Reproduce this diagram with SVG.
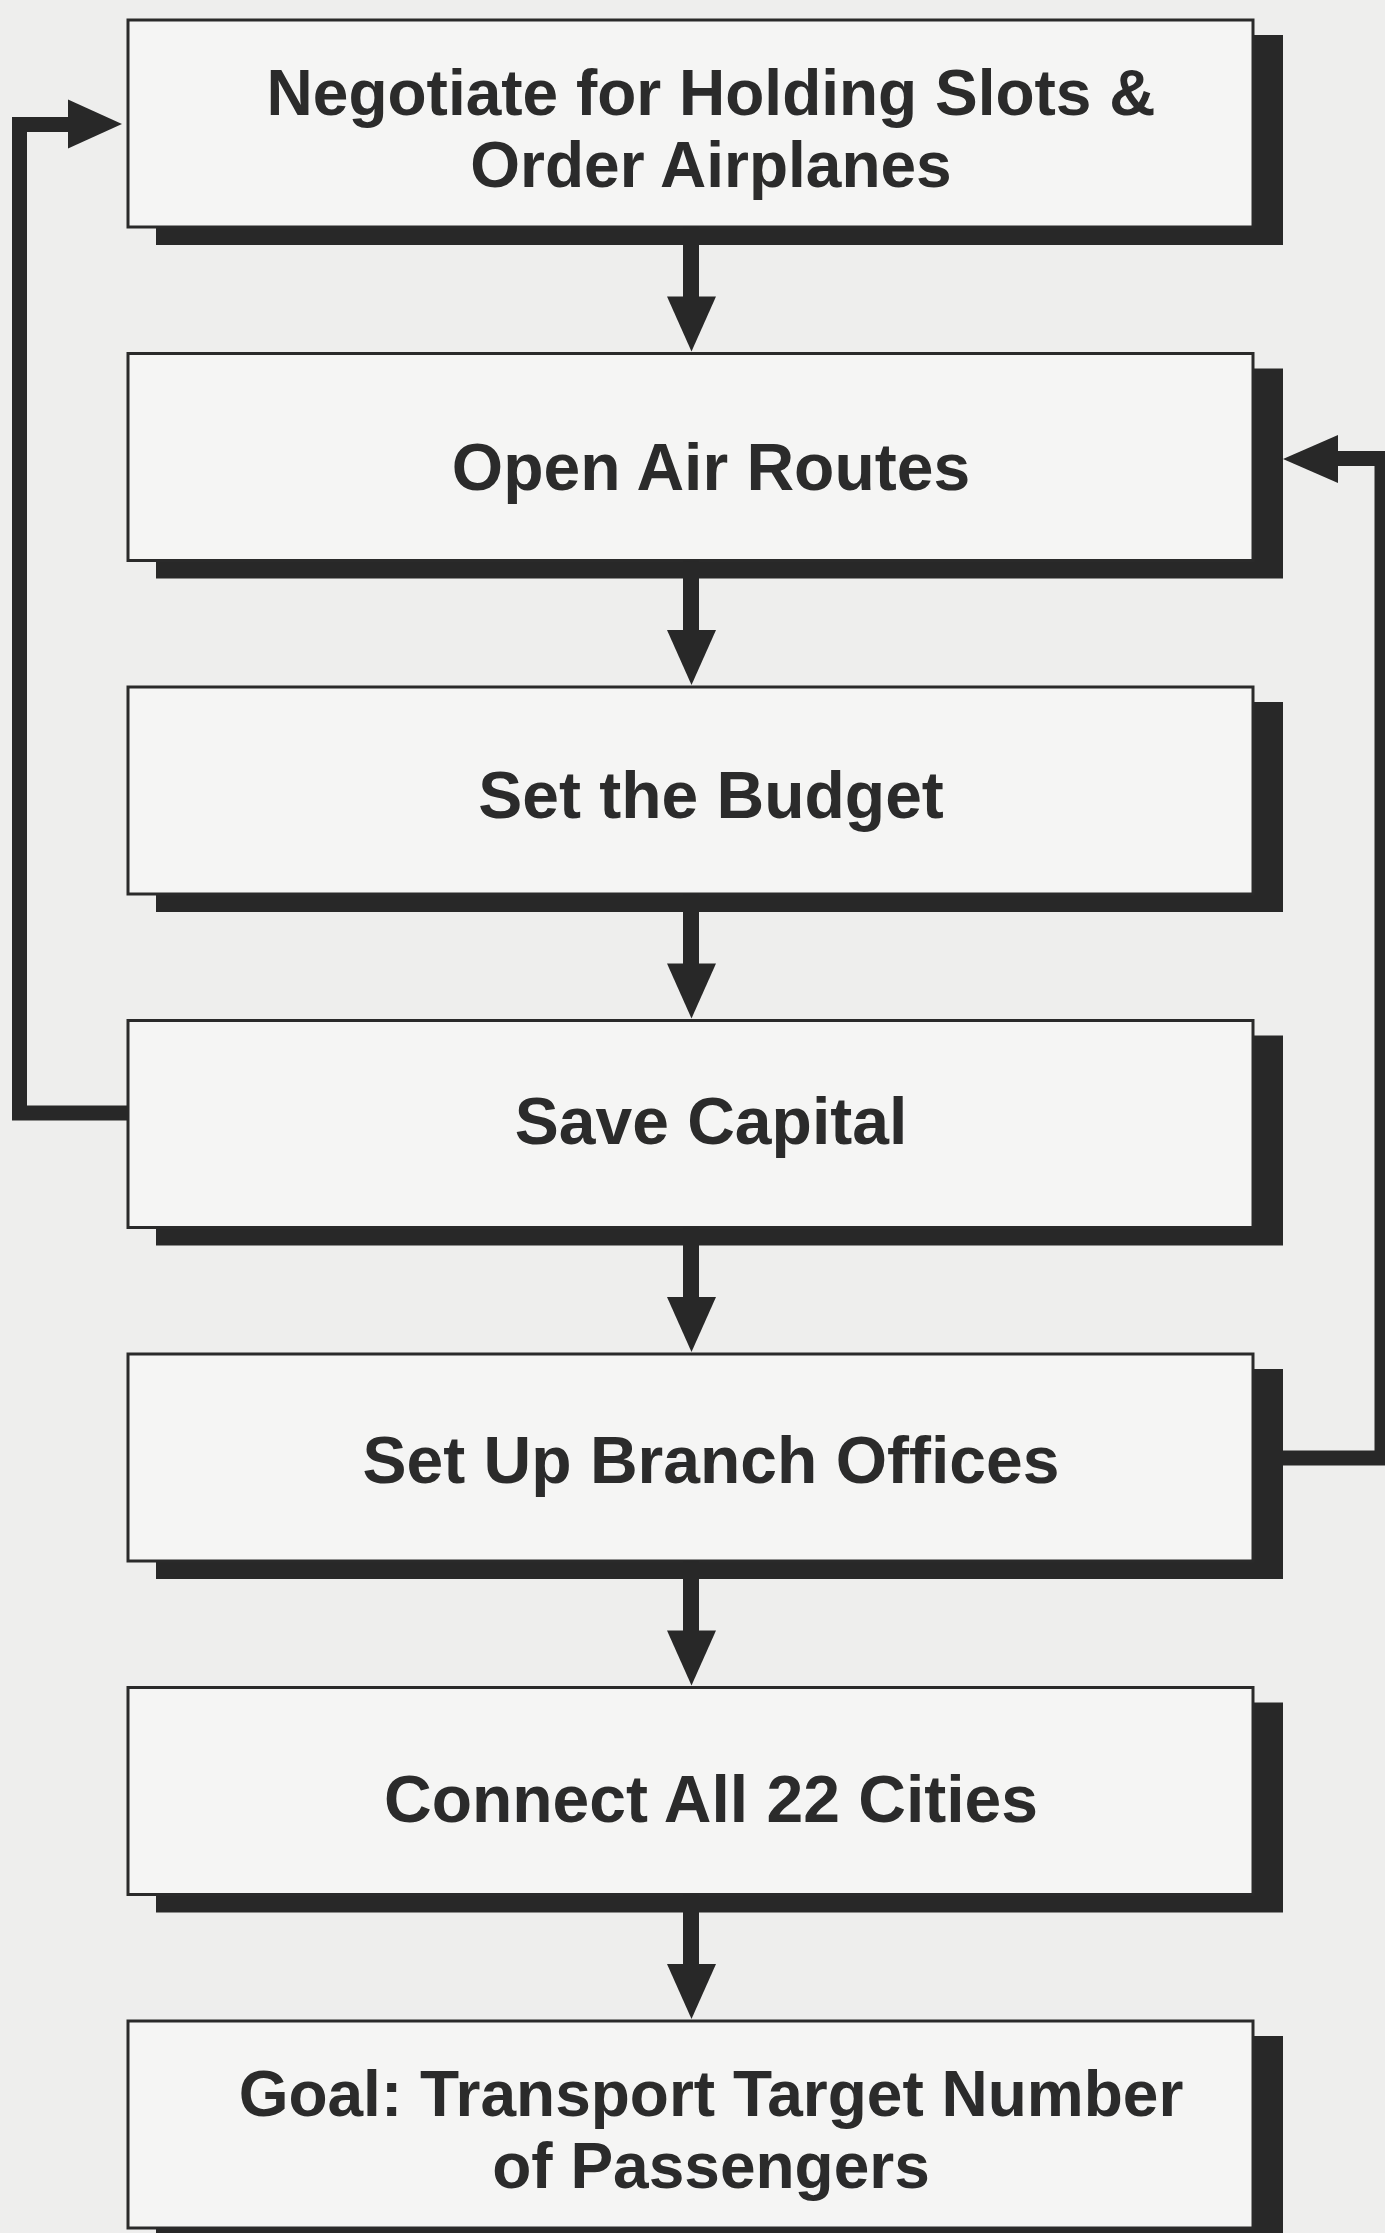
<svg xmlns="http://www.w3.org/2000/svg" width="1385" height="2233" viewBox="0 0 1385 2233">
<style>
.bg{fill:#eeeeed}
.shadow{fill:#282828}
.box{fill:#f5f5f4;stroke:#2a2a2a;stroke-width:3}
.lbl{font-family:"Liberation Sans",Arial,Helvetica,sans-serif;font-weight:bold;font-size:66px;fill:#2b2b2b;text-anchor:middle}
.two{font-size:64px}
.line{fill:none;stroke:#282828;stroke-width:15;stroke-linejoin:miter;stroke-linecap:butt}
.fill{fill:#282828}
</style>
<rect class="bg" x="0" y="0" width="1385" height="2233"/>
<g id="n1">
<rect class="shadow" x="156" y="35" width="1127" height="210"/>
<rect class="box" x="128" y="20" width="1125" height="207"/>
<text class="lbl two" x="711" y="115">Negotiate for Holding Slots &amp;</text>
<text class="lbl two" x="711" y="187">Order Airplanes</text>
</g>
<g id="n2">
<rect class="shadow" x="156" y="368.5" width="1127" height="210"/>
<rect class="box" x="128" y="353.5" width="1125" height="207"/>
<text class="lbl" x="711" y="490">Open Air Routes</text>
</g>
<g id="n3">
<rect class="shadow" x="156" y="702" width="1127" height="210"/>
<rect class="box" x="128" y="687" width="1125" height="207"/>
<text class="lbl" x="711" y="818">Set the Budget</text>
</g>
<g id="n4">
<rect class="shadow" x="156" y="1035.5" width="1127" height="210"/>
<rect class="box" x="128" y="1020.5" width="1125" height="207"/>
<text class="lbl" x="711" y="1144">Save Capital</text>
</g>
<g id="n5">
<rect class="shadow" x="156" y="1369" width="1127" height="210"/>
<rect class="box" x="128" y="1354" width="1125" height="207"/>
<text class="lbl" x="711" y="1483">Set Up Branch Offices</text>
</g>
<g id="n6">
<rect class="shadow" x="156" y="1702.5" width="1127" height="210"/>
<rect class="box" x="128" y="1687.5" width="1125" height="207"/>
<text class="lbl" x="711" y="1822">Connect All 22 Cities</text>
</g>
<g id="n7">
<rect class="shadow" x="156" y="2036" width="1127" height="210"/>
<rect class="box" x="128" y="2021" width="1125" height="207"/>
<text class="lbl two" x="711" y="2116">Goal: Transport Target Number</text>
<text class="lbl two" x="711" y="2188">of Passengers</text>
</g>
<g id="connectors">
<rect class="fill" x="683" y="227" width="16" height="70"/>
<polygon class="fill" points="667,296.5 716,296.5 691.5,351.5"/>
<rect class="fill" x="683" y="560.5" width="16" height="70"/>
<polygon class="fill" points="667,630 716,630 691.5,685"/>
<rect class="fill" x="683" y="894" width="16" height="70"/>
<polygon class="fill" points="667,963.5 716,963.5 691.5,1018.5"/>
<rect class="fill" x="683" y="1227.5" width="16" height="70"/>
<polygon class="fill" points="667,1297 716,1297 691.5,1352"/>
<rect class="fill" x="683" y="1561" width="16" height="70"/>
<polygon class="fill" points="667,1630.5 716,1630.5 691.5,1685.5"/>
<rect class="fill" x="683" y="1894.5" width="16" height="70"/>
<polygon class="fill" points="667,1964 716,1964 691.5,2019"/>
<path class="line" d="M128,1113 H19.5 V124.5 H72"/>
<polygon class="fill" points="68,99.5 122,124 68,148.5"/>
<path class="line" d="M1283,1458 H1382 V458.5 H1334"/>
<polygon class="fill" points="1338,435 1283,459 1338,483"/>
</g>
</svg>
